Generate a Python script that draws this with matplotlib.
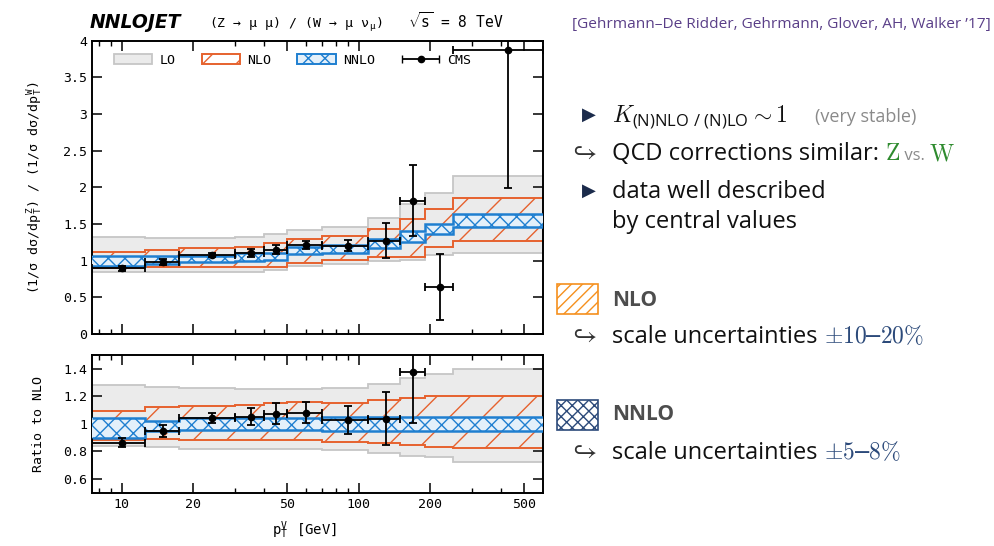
import numpy as np
import matplotlib
matplotlib.use('Agg')
import matplotlib.pyplot as plt
from matplotlib.patches import Patch, Rectangle
from matplotlib.ticker import FixedLocator, NullFormatter
from matplotlib.legend_handler import HandlerErrorbar
from matplotlib.container import ErrorbarContainer

plt.rcParams['font.family'] = ['DejaVu Sans Mono']
plt.rcParams['mathtext.fontset'] = 'cm'
plt.rcParams['hatch.linewidth'] = 1.0

# bin edges in pT^V [GeV]
edges = [7.5, 12.5, 17.5, 30, 40, 50, 70, 110, 150, 190, 250, 600]

# Z/W ratio: scale-variation bands
lo_up = [1.32, 1.31, 1.31, 1.32, 1.36, 1.42, 1.46, 1.58, 1.77, 1.92, 2.16]
lo_dn = [0.84, 0.84, 0.84, 0.85, 0.87, 0.93, 0.95, 0.99, 1.01, 1.08, 1.10]
nlo_up = [1.12, 1.15, 1.17, 1.19, 1.24, 1.29, 1.34, 1.43, 1.57, 1.70, 1.86]
nlo_dn = [0.90, 0.92, 0.91, 0.91, 0.92, 0.97, 1.01, 1.05, 1.05, 1.18, 1.27]
nnlo_up = [1.07, 1.06, 1.07, 1.10, 1.11, 1.19, 1.22, 1.30, 1.40, 1.50, 1.63]
nnlo_dn = [0.93, 0.96, 0.98, 0.99, 1.01, 1.09, 1.11, 1.17, 1.26, 1.36, 1.46]

# CMS data
cms_x = [10, 15, 24, 35, 45, 60, 90, 130, 170, 220, 425]
cms_y = [0.896, 0.978, 1.078, 1.105, 1.15, 1.214, 1.205, 1.273, 1.82, 0.64, 3.87]
cms_err = [0.03, 0.04, 0.03, 0.05, 0.06, 0.055, 0.075, 0.24, 0.48, 0.45, 1.88]

# ratio to NLO
r_lo_up = [1.28, 1.27, 1.26, 1.25, 1.25, 1.25, 1.26, 1.29, 1.33, 1.36, 1.40]
r_lo_dn = [0.84, 0.83, 0.82, 0.82, 0.82, 0.82, 0.81, 0.79, 0.77, 0.76, 0.72]
r_nlo_up = [1.09, 1.12, 1.13, 1.14, 1.15, 1.16, 1.15, 1.17, 1.19, 1.20, 1.20]
r_nlo_dn = [0.88, 0.89, 0.88, 0.885, 0.885, 0.88, 0.87, 0.86, 0.845, 0.835, 0.825]
r_nnlo_up = [1.04, 1.02, 1.045, 1.045, 1.045, 1.045, 1.05, 1.05, 1.05, 1.05, 1.05]
r_nnlo_dn = [0.90, 0.95, 0.955, 0.955, 0.955, 0.955, 0.95, 0.95, 0.95, 0.95, 0.95]
ratio_x = cms_x[:9]
ratio_y = [0.864, 0.95, 1.045, 1.053, 1.075, 1.08, 1.028, 1.038, 1.373]
ratio_err = [0.035, 0.045, 0.037, 0.062, 0.078, 0.076, 0.1, 0.19, 0.365]

gray_f = '#ebebeb'
gray_e = '#c6c6c6'
orange = '#e6622e'
blue = '#1f7fd0'
blue_f = '#e4f0fa'

W, H = 995, 546
def fx(x):
    return x / W
def fy(y):
    return 1 - y / H

fig = plt.figure(figsize=(9.95, 5.46), dpi=100)
ax = fig.add_axes([fx(92), fy(334), 451 / W, 293.3 / H])
axr = fig.add_axes([fx(92), fy(492.7), 451 / W, 137.7 / H])


def draw_bands(a, lu, ld, nu, nd, nnu, nnd):
    a.stairs(lu, edges, baseline=ld, fill=True, facecolor=gray_f, edgecolor='none', zorder=1)
    a.stairs(lu, edges, baseline=None, color=gray_e, lw=1.3, zorder=1.1)
    a.stairs(ld, edges, baseline=None, color=gray_e, lw=1.3, zorder=1.1)
    a.stairs(nu, edges, baseline=nd, fill=True, facecolor='none', edgecolor=orange,
             hatch='/', zorder=2)
    a.stairs(nu, edges, baseline=None, color=orange, lw=1.4, zorder=2.1)
    a.stairs(nd, edges, baseline=None, color=orange, lw=1.4, zorder=2.1)
    a.stairs(nnu, edges, baseline=nnd, fill=True, facecolor=blue_f, edgecolor=blue,
             hatch='xx', zorder=3)
    a.stairs(nnu, edges, baseline=None, color=blue, lw=1.8, zorder=3.1)
    a.stairs(nnd, edges, baseline=None, color=blue, lw=1.8, zorder=3.1)


def bin_xerr(xs):
    lo, hi = [], []
    for x in xs:
        i = np.searchsorted(edges, x) - 1
        lo.append(x - edges[i])
        hi.append(edges[i + 1] - x)
    return [lo, hi]


draw_bands(ax, lo_up, lo_dn, nlo_up, nlo_dn, nnlo_up, nnlo_dn)
ax.errorbar(cms_x, cms_y, yerr=cms_err, xerr=bin_xerr(cms_x), fmt='o', color='k',
            ms=4.5, lw=1.3, capsize=3, capthick=1.3, zorder=5)

draw_bands(axr, r_lo_up, r_lo_dn, r_nlo_up, r_nlo_dn, r_nnlo_up, r_nnlo_dn)
axr.errorbar(ratio_x, ratio_y, yerr=ratio_err, xerr=bin_xerr(ratio_x), fmt='o', color='k',
             ms=4.5, lw=1.3, capsize=3, capthick=1.3, zorder=5)

for a in (ax, axr):
    a.set_xscale('log')
    a.set_xlim(7.5, 600)
    a.xaxis.set_major_locator(FixedLocator([10, 20, 50, 100, 200, 500]))
    a.xaxis.set_minor_locator(FixedLocator([8, 9, 30, 40, 60, 70, 80, 90, 300, 400]))
    a.xaxis.set_minor_formatter(NullFormatter())
    a.tick_params(which='both', direction='in', top=True, right=True, labelsize=9.5)
    a.tick_params(which='major', length=7, width=1.1)
    a.tick_params(which='minor', length=3.5, width=1.0)
    for s in a.spines.values():
        s.set_linewidth(1.4)
    a.yaxis.set_label_coords(-0.105, 0.5)

ax.set_ylim(0, 4)
ax.set_yticks([0, 0.5, 1, 1.5, 2, 2.5, 3, 3.5, 4])
ax.set_yticklabels(['0', '0.5', '1', '1.5', '2', '2.5', '3', '3.5', '4'])
ax.set_xticklabels([])
ax.set_ylabel(r'(1/σ dσ/d$\mathdefault{p}_{\mathdefault{T}}^{\mathdefault{Z}}$) / '
              r'(1/σ dσ/d$\mathdefault{p}_{\mathdefault{T}}^{\mathdefault{W}}$)', fontsize=9.5)

axr.set_ylim(0.5, 1.5)
axr.set_yticks([0.6, 0.8, 1, 1.2, 1.4])
axr.set_yticklabels(['0.6', '0.8', '1', '1.2', '1.4'])
axr.set_xticklabels(['10', '20', '50', '100', '200', '500'])
axr.set_ylabel('Ratio to NLO', fontsize=9.5)
axr.set_xlabel(r'$\mathdefault{p}_{\mathdefault{T}}^{\mathdefault{V}}$ [GeV]', fontsize=10)
axr.xaxis.set_label_coords(0.472, -0.19)

# legend
h_lo = Patch(facecolor=gray_f, edgecolor=gray_e, lw=1.3)
h_nlo = Patch(facecolor='none', edgecolor=orange, hatch='/', lw=1.4)
h_nnlo = Patch(facecolor=blue_f, edgecolor=blue, hatch='xx', lw=1.4)
h_cms = ax.errorbar([np.nan], [np.nan], xerr=[[1], [1]], fmt='o', color='k', ms=4.5,
                    lw=1.3, capsize=3)
ax.legend([h_lo, h_nlo, h_nnlo, h_cms], ['LO', 'NLO', 'NNLO', 'CMS'], ncol=4,
          loc='upper left', bbox_to_anchor=(0.048, 0.955), frameon=False, fontsize=9.5,
          handlelength=2.9, handleheight=0.8, handletextpad=0.55, columnspacing=2.0,
          borderaxespad=0, borderpad=0,
          handler_map={ErrorbarContainer: HandlerErrorbar(xerr_size=1.4)})

# header above the plot
fig.text(fx(90), fy(28), 'NNLOJET', fontsize=13.5, fontweight='bold', style='italic',
         family='DejaVu Sans', va='baseline')
fig.text(fx(296), fy(28), r'(Z → μ μ) / (W → μ $\mathdefault{ν}_{\mathdefault{μ}}$)',
         fontsize=9.5, ha='center', va='baseline')
fig.text(fx(503), fy(28), r'$\sqrt{\mathdefault{s}}$ = 8 TeV', fontsize=10.5, ha='right',
         va='baseline')

# right-hand side notes
sans = 'Open Sans'
navy = '#1b2b4b'
green = '#2e8b2e'
numc = '#2c4a7a'
body = dict(family=sans, fontsize=17, color='#111111')


def chain(x, y, parts):
    prev = None
    for s, kw in parts:
        if prev is None:
            prev = fig.text(fx(x), fy(y), s, va='baseline', **kw)
        else:
            prev = ax.annotate(s, xy=(1, fy(y)), xycoords=(prev, 'figure fraction'),
                               va='baseline', annotation_clip=False, **kw)
    return prev


fig.text(fx(572), fy(28), '[Gehrmann–De Ridder, Gehrmann, Glover, AH, Walker ’17]',
         family=sans, fontsize=11.1, color='#5a3f88', va='baseline')

fig.text(fx(582), fy(120), '▶', family='DejaVu Sans', fontsize=13, color=navy, va='baseline')
fig.text(fx(612), fy(122), r'$K_{\mathdefault{(N)NLO\ /\ (N)LO}} \sim 1$', family=sans,
         fontsize=17, color='#111111', va='baseline')
fig.text(fx(815), fy(122), '(very stable)', family=sans, fontsize=13, color='#8a8a8a',
         va='baseline')

fig.text(fx(568), fy(160), r'$\hookrightarrow$', fontsize=19, color='#333333', va='baseline')
chain(612, 160, [('QCD corrections similar: ', body),
                 (r'$\mathrm{Z}$', dict(fontsize=17, color=green)),
                 (' vs. ', dict(family=sans, fontsize=12, color='#8a8a8a')),
                 (r'$\mathrm{W}$', dict(fontsize=17, color=green))])

fig.text(fx(582), fy(196), '▶', family='DejaVu Sans', fontsize=13, color=navy, va='baseline')
fig.text(fx(612), fy(198), 'data well described', va='baseline', **body)
fig.text(fx(612), fy(228), 'by central values', va='baseline', **body)

fig.patches.append(Rectangle((fx(557), fy(314)), 41 / W, 30 / H, transform=fig.transFigure,
                             facecolor='white', edgecolor='#f5901e', hatch='///', lw=1.2))
fig.text(fx(612), fy(306), 'NLO', family=sans, fontsize=15, fontweight='bold',
         color='#4d4d4d', va='baseline')
fig.text(fx(568), fy(343), r'$\hookrightarrow$', fontsize=19, color='#333333', va='baseline')
chain(612, 343, [('scale uncertainties ', body),
                 (r'$\pm10$–$20\%$', dict(fontsize=17, color=numc))])

fig.patches.append(Rectangle((fx(557), fy(430)), 41 / W, 30 / H, transform=fig.transFigure,
                             facecolor='white', edgecolor='#2c4a7a', hatch='xxx', lw=1.2))
fig.text(fx(612), fy(420), 'NNLO', family=sans, fontsize=15, fontweight='bold',
         color='#4d4d4d', va='baseline')
fig.text(fx(568), fy(459), r'$\hookrightarrow$', fontsize=19, color='#333333', va='baseline')
chain(612, 459, [('scale uncertainties ', body),
                 (r'$\pm5$–$8\%$', dict(fontsize=17, color=numc))])

fig.savefig('out.png', dpi=100)
